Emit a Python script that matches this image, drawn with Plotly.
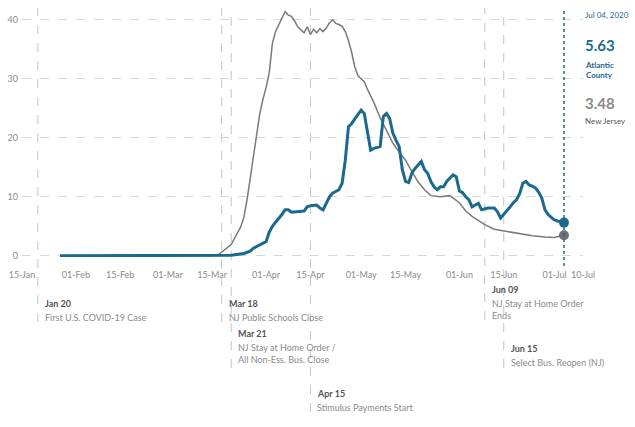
import plotly.graph_objects as go

# ---- data ----
nj_dates = ["2020-01-27", "2020-03-15", "2020-03-17", "2020-03-21", "2020-03-24", "2020-03-25",
            "2020-03-26", "2020-03-27", "2020-03-28", "2020-03-29", "2020-03-30", "2020-03-31",
            "2020-04-01", "2020-04-02", "2020-04-03", "2020-04-04", "2020-04-05", "2020-04-06",
            "2020-04-07", "2020-04-08", "2020-04-09", "2020-04-10", "2020-04-11", "2020-04-12",
            "2020-04-13", "2020-04-14", "2020-04-15", "2020-04-16", "2020-04-17", "2020-04-18",
            "2020-04-19", "2020-04-20", "2020-04-21", "2020-04-22", "2020-04-23", "2020-04-24",
            "2020-04-25", "2020-04-26", "2020-04-27", "2020-04-28", "2020-04-29", "2020-04-30",
            "2020-05-01", "2020-05-02", "2020-05-03", "2020-05-05", "2020-05-07", "2020-05-09",
            "2020-05-11", "2020-05-13", "2020-05-15", "2020-05-17", "2020-05-19", "2020-05-21",
            "2020-05-23", "2020-05-26", "2020-05-29", "2020-06-01", "2020-06-03", "2020-06-05",
            "2020-06-07", "2020-06-09", "2020-06-12", "2020-06-16", "2020-06-20", "2020-06-24",
            "2020-06-28", "2020-07-01", "2020-07-04"]
nj_values = [0, 0, 0.2, 1.9, 4.9, 6.5,
             9.5, 13, 16.5, 20.5, 24, 26.5,
             28.5, 31, 36, 38, 39.2, 40.5,
             41.4, 40.8, 40.6, 39.8, 38.8, 38.3,
             37.8, 38.8, 37.5, 38.4, 37.8, 38.5,
             38, 38.6, 39.5, 40, 39.4, 39.2,
             38.9, 38, 36.5, 34.5, 32, 30.5,
             30, 29.5, 28.2, 26, 23.4, 21.2,
             19.1, 17.6, 16.2, 14.3, 12.5, 11.2,
             10.2, 10, 10.2, 9, 7.6, 6.7,
             6, 5.3, 4.5, 4.1, 3.7, 3.4,
             3.2, 3.1, 3.48]

ac_dates = ["2020-01-27", "2020-03-21", "2020-03-25", "2020-03-27", "2020-03-28", "2020-03-30",
            "2020-04-01", "2020-04-02", "2020-04-03", "2020-04-04", "2020-04-05", "2020-04-06",
            "2020-04-07", "2020-04-08", "2020-04-09", "2020-04-11", "2020-04-13", "2020-04-14",
            "2020-04-15", "2020-04-17", "2020-04-18", "2020-04-19", "2020-04-21", "2020-04-22",
            "2020-04-24", "2020-04-25", "2020-04-26", "2020-04-27", "2020-04-28", "2020-04-29",
            "2020-04-30", "2020-05-01", "2020-05-02", "2020-05-03", "2020-05-04", "2020-05-05",
            "2020-05-06", "2020-05-07", "2020-05-08", "2020-05-09", "2020-05-10", "2020-05-11",
            "2020-05-12", "2020-05-13", "2020-05-14", "2020-05-15", "2020-05-16", "2020-05-17",
            "2020-05-18", "2020-05-19", "2020-05-20", "2020-05-21", "2020-05-22", "2020-05-23",
            "2020-05-24", "2020-05-25", "2020-05-26", "2020-05-27", "2020-05-28", "2020-05-30",
            "2020-05-31", "2020-06-01", "2020-06-02", "2020-06-03", "2020-06-04", "2020-06-05",
            "2020-06-06", "2020-06-07", "2020-06-08", "2020-06-10", "2020-06-12", "2020-06-13",
            "2020-06-14", "2020-06-15", "2020-06-16", "2020-06-17", "2020-06-18", "2020-06-19",
            "2020-06-20", "2020-06-21", "2020-06-22", "2020-06-23", "2020-06-24", "2020-06-25",
            "2020-06-26", "2020-06-27", "2020-06-28", "2020-06-29", "2020-06-30", "2020-07-01",
            "2020-07-02", "2020-07-03", "2020-07-04"]
ac_values = [0, 0.1, 0.4, 0.8, 1.3, 1.8,
             2.4, 4.0, 5.0, 5.7, 6.3, 7.0,
             7.8, 7.8, 7.4, 7.5, 7.6, 8.3,
             8.5, 8.6, 8.1, 7.8, 10.0, 10.6,
             11.2, 12.3, 16.2, 21.9, 22.4, 23.2,
             23.9, 24.7, 24.1, 20.8, 17.9, 18.2,
             18.3, 18.5, 23.6, 24.1, 23.3, 20.8,
             19.6, 18.5, 14.6, 12.6, 12.4, 14.0,
             14.8, 15.4, 16.0, 14.6, 14.0, 12.6,
             11.7, 11.2, 11.7, 11.7, 12.6, 13.7,
             13.4, 11.0, 10.7, 10.0, 9.5, 8.3,
             8.6, 8.9, 7.8, 8.1, 8.1, 7.5,
             6.4, 7.0, 7.6, 8.3, 9.0, 9.5,
             10.5, 12.3, 12.6, 12.0, 11.8, 11.5,
             10.8, 9.8, 7.8, 7.0, 6.5, 6.1,
             5.9, 5.7, 5.63]

tick_dates = ["2020-01-15", "2020-02-01", "2020-02-15", "2020-03-01", "2020-03-15", "2020-04-01",
              "2020-04-15", "2020-05-01", "2020-05-15", "2020-06-01", "2020-06-15", "2020-07-01",
              "2020-07-10"]
tick_labels = ["15-Jan", "01-Feb", "15-Feb", "01-Mar", "15-Mar", "01-Apr", "15-Apr", "01-May",
               "15-May", "01-Jun", "15-Jun", "01-Jul", "10-Jul"]

event_dates = ["2020-01-20", "2020-03-18", "2020-03-21", "2020-04-15", "2020-06-09", "2020-06-15"]
event_titles = ["Jan 20", "Mar 18", "Mar 21", "Apr 15", "Jun 09", "Jun 15"]
event_texts = ["First U.S. COVID-19 Case", "NJ Public Schools Close",
               "NJ Stay at Home Order /<br>All Non-Ess. Bus. Close", "Stimulus Payments Start",
               "NJ Stay at Home Order<br>Ends", "Select Bus. Reopen (NJ)"]
# vertical placement of each event label (pixels from top of figure)
event_title_px = [303, 303, 333, 393, 289, 348]
event_line_end_px = [322, 322, 368, 412, 320, 368]

current_date = "2020-07-04"
current_label = "Jul 04, 2020"
ac_name = "Atlantic<br>County"
nj_name = "New Jersey"
ac_last = 5.63
nj_last = 3.48

BLUE = "#1b6a8e"
GRAY = "#7a7a7a"
FONT = "Lato"

# layout geometry
W, H = 635, 427
M_L, M_R, M_T, M_B = 22, 52, 8, 170
PH = H - M_T - M_B
def py(px):
    return (H - M_B - px) / PH

fig = go.Figure()
fig.add_trace(go.Scatter(x=nj_dates, y=nj_values, mode="lines",
                         line=dict(color=GRAY, width=1.5), name="New Jersey",
                         hoverinfo="skip"))
fig.add_trace(go.Scatter(x=ac_dates, y=ac_values, mode="lines",
                         line=dict(color=BLUE, width=3), name="Atlantic County",
                         hoverinfo="skip"))
fig.add_trace(go.Scatter(x=[current_date], y=[nj_last], mode="markers",
                         marker=dict(color="#6f6f6f", size=10), cliponaxis=False, hoverinfo="skip"))
fig.add_trace(go.Scatter(x=[current_date], y=[ac_last], mode="markers",
                         marker=dict(color=BLUE, size=10), cliponaxis=False, hoverinfo="skip"))

shapes = []
annotations = []
for d, t, txt, tpx, lpx in zip(event_dates, event_titles, event_texts, event_title_px, event_line_end_px):
    shapes.append(dict(type="line", xref="x", yref="paper", x0=d, x1=d, y0=py(lpx), y1=1,
                       line=dict(color="#c4c4c4", width=1, dash="dash"), layer="below"))
    annotations.append(dict(x=d, y=py(tpx), xref="x", yref="paper", xanchor="left", yanchor="middle",
                            xshift=5, text="<b>" + t + "</b>", showarrow=False,
                            font=dict(family=FONT, size=9, color="#555555")))
    annotations.append(dict(x=d, y=py(tpx + 7), xref="x", yref="paper", xanchor="left", yanchor="top",
                            xshift=5, text=txt, showarrow=False, align="left",
                            font=dict(family=FONT, size=9, color="#8a8a8a")))

shapes.append(dict(type="line", xref="x", yref="paper", x0=current_date, x1=current_date,
                   y0=py(266), y1=1, line=dict(color=BLUE, width=1.5, dash="dot")))

right = [
    (current_label, 15, 8, BLUE),
    ("<b>%.2f</b>" % ac_last, 45, 15, BLUE),
    ("<b>" + ac_name + "</b>", 70, 8, BLUE),
    ("<b>%.2f</b>" % nj_last, 103, 15, "#8a8a8a"),
    (nj_name, 121, 8, "#555555"),
]
for txt, ypx, sz, col in right:
    annotations.append(dict(x=1, y=py(ypx), xref="paper", yref="paper", xanchor="left", yanchor="middle",
                            xshift=0, text=txt, showarrow=False, align="left",
                            font=dict(family=FONT, size=sz, color=col)))

fig.update_layout(
    width=W, height=H,
    margin=dict(l=M_L, r=M_R, t=M_T, b=M_B, autoexpand=False),
    paper_bgcolor="white", plot_bgcolor="white",
    showlegend=False, hovermode=False,
    font=dict(family=FONT, size=9, color="#888888"),
    shapes=shapes, annotations=annotations,
    xaxis=dict(type="date", range=["2020-01-15", "2020-07-10"], tickvals=tick_dates, ticktext=tick_labels,
               showgrid=False, zeroline=False, showline=False, ticks="outside", ticklen=9,
               automargin=False,
               tickcolor="rgba(0,0,0,0)", tickfont=dict(family=FONT, size=9, color="#8a8a8a")),
    yaxis=dict(range=[-0.2, 42], tickvals=[0, 10, 20, 30, 40], showgrid=True, gridcolor="#d6d6d6",
               griddash="dash", gridwidth=1, zeroline=False, showline=False, ticks="",
               ticklabelstandoff=3, automargin=False,
               tickfont=dict(family=FONT, size=9, color="#8a8a8a")),
)

fig.write_html("out.html", config={"displayModeBar": False},
               post_script="document.body.style.margin='0px';document.body.style.overflow='hidden';")
